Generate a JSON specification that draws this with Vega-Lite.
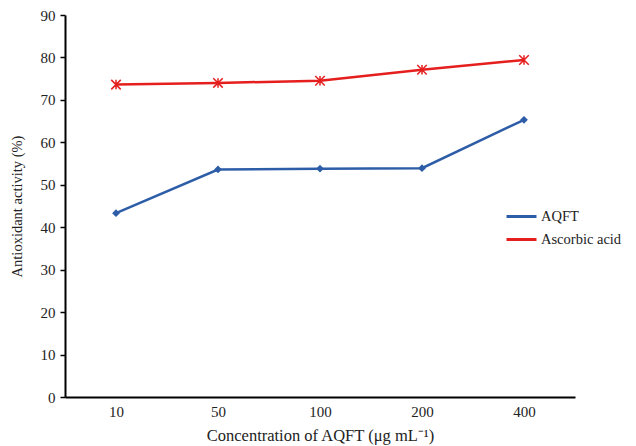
{
  "$schema": "https://vega.github.io/schema/vega-lite/v6.json",
  "autosize": {"type": "none"},
  "padding": {"left": 65, "top": 15, "right": 61, "bottom": 49},
  "width": 510,
  "height": 382,
  "background": "white",
  "config": {
    "view": {"stroke": null},
    "font": "Liberation Serif",
    "axis": {"grid": false, "domainColor": "black", "domainWidth": 2, "tickColor": "black", "tickWidth": 1.5, "labelFont": "Liberation Serif", "titleFont": "Liberation Serif", "labelColor": "#222", "titleColor": "#222", "titleFontWeight": "normal"}
  },
  "data": {
    "values": [
      {"conc": "10", "series": "AQFT", "activity": 43.3},
      {"conc": "50", "series": "AQFT", "activity": 53.6},
      {"conc": "100", "series": "AQFT", "activity": 53.8},
      {"conc": "200", "series": "AQFT", "activity": 53.9},
      {"conc": "400", "series": "AQFT", "activity": 65.3},
      {"conc": "10", "series": "Ascorbic acid", "activity": 73.6},
      {"conc": "50", "series": "Ascorbic acid", "activity": 74.0},
      {"conc": "100", "series": "Ascorbic acid", "activity": 74.5},
      {"conc": "200", "series": "Ascorbic acid", "activity": 77.1},
      {"conc": "400", "series": "Ascorbic acid", "activity": 79.4}
    ]
  },
  "encoding": {
    "x": {"field": "conc", "type": "ordinal", "sort": ["10", "50", "100", "200", "400"], "scale": {"type": "point", "padding": 0.5},
      "axis": {"title": "Concentration of  AQFT (μg  mL⁻¹)", "labelAngle": 0, "ticks": false, "labelPadding": 7, "labelFontSize": 15, "titleFontSize": 16.5, "titlePadding": 8}},
    "y": {"field": "activity", "type": "quantitative", "scale": {"domain": [0, 90]},
      "axis": {"title": "Antioxidant activity (%)", "values": [0,10,20,30,40,50,60,70,80,90], "tickSize": 5, "labelPadding": 5, "labelFontSize": 15, "titleFontSize": 14.5, "titlePadding": 16}},
    "color": {"field": "series", "type": "nominal", "scale": {"domain": ["AQFT", "Ascorbic acid"], "range": ["#2E5DA8", "#E51E1E"]},
      "legend": {"title": null, "orient": "none", "legendX": 440, "legendY": 185, "symbolType": "M-1,0L1,0", "symbolStrokeWidth": 3, "symbolSize": 900, "labelOffset": 3, "labelFontSize": 14.5, "labelFont": "Liberation Serif", "labelColor": "#222", "rowPadding": -7}}
  },
  "layer": [
    {"mark": {"type": "line", "strokeWidth": 2.5}, "encoding": {"strokeWidth": {"condition": {"test": "datum.series === 'Ascorbic acid'", "value": 3}, "value": 2.5}}},
    {"transform": [{"filter": "datum.series === 'AQFT'"}], "mark": {"type": "point", "shape": "diamond", "filled": true, "size": 60, "opacity": 1}},
    {"transform": [{"filter": "datum.series === 'Ascorbic acid'"}], "mark": {"type": "point", "shape": "M-1,-1L1,1M-1,1L1,-1M0,-1L0,1", "filled": false, "size": 90, "strokeWidth": 1.5, "opacity": 1, "color": "#EE4444"}}
  ]
}
